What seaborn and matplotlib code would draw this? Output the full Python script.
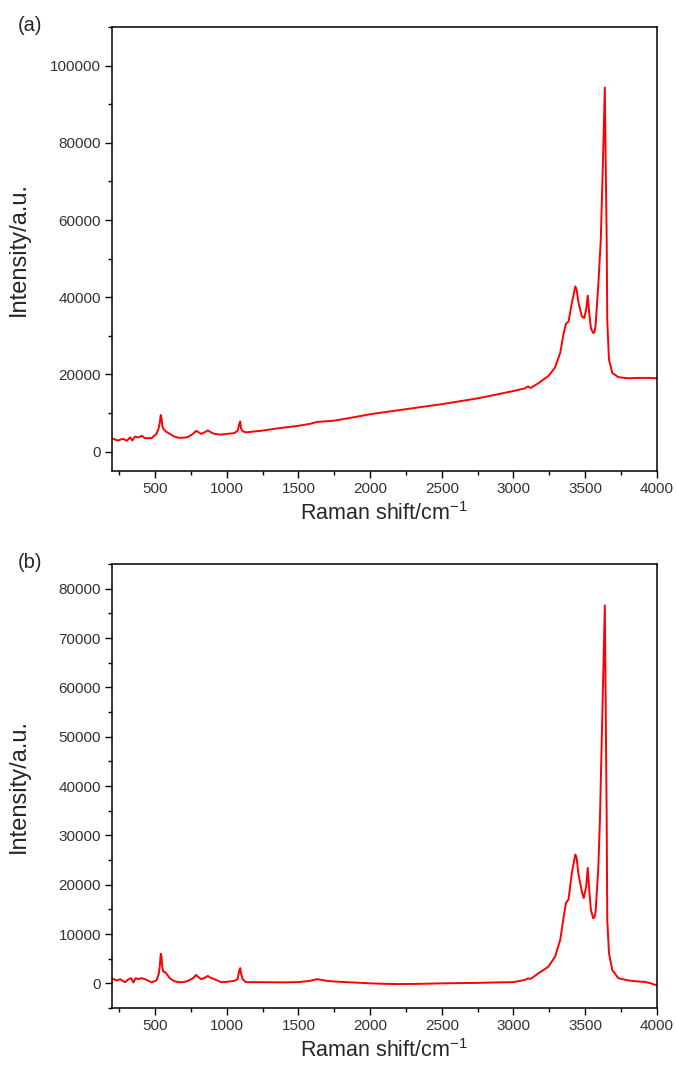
import matplotlib
matplotlib.use("Agg")
import matplotlib.pyplot as plt
from matplotlib.ticker import MultipleLocator
import pandas as pd
import seaborn as sns

# Raman spectrum (a)
shift_a = [200, 211, 230, 245, 265, 280, 303, 326, 342, 360, 384, 407, 430, 476,
           510, 525, 533, 540, 545, 551, 557, 573, 603, 630, 661, 700, 730, 765,
           787, 805, 822, 845, 868, 890, 914, 961, 1000, 1053, 1076, 1086, 1094,
           1100, 1111, 1134, 1238, 1350, 1500, 1580, 1630, 1745, 1900, 2000, 2250,
           2500, 2750, 3000, 3080, 3100, 3120, 3177, 3220, 3244, 3290, 3326, 3350,
           3366, 3384, 3407, 3431, 3440, 3454, 3477, 3493, 3507, 3518, 3528, 3540,
           3556, 3565, 3572, 3591, 3609, 3623, 3637, 3642, 3650, 3654, 3666, 3689,
           3731, 3800, 3869, 3950, 4000]
intensity_a = [3400, 3300, 3000, 2900, 3200, 3300, 2800, 3700, 2900, 3900, 3700, 4100,
               3500, 3500, 4600, 6000, 7500, 9500, 8800, 6600, 6000, 5300, 4600, 4000,
               3600, 3600, 3800, 4600, 5400, 5000, 4600, 5000, 5500, 5000, 4600, 4400,
               4600, 4800, 5400, 7000, 7800, 6000, 5300, 5000, 5400, 6000, 6700, 7200,
               7700, 8000, 9000, 9700, 11000, 12300, 13800, 15700, 16400, 16900, 16500,
               17800, 19000, 19600, 21800, 25600, 30700, 33100, 33700, 38500, 42800,
               42000, 38500, 35000, 34600, 36800, 40400, 35900, 32000, 30700, 31000,
               32500, 42800, 55000, 74000, 94300, 78000, 55000, 34000, 23800, 20400,
               19300, 19000, 19100, 19100, 19000]

# Raman spectrum (b)
shift_b = [200, 211, 235, 257, 275, 291, 316, 333, 349, 365, 384, 402, 430, 476,
           510, 525, 533, 540, 545, 551, 557, 573, 603, 630, 661, 700, 730, 765,
           787, 805, 822, 845, 868, 890, 914, 961, 1000, 1053, 1076, 1086, 1094,
           1100, 1111, 1134, 1238, 1400, 1500, 1580, 1630, 1700, 1750, 1900, 2000,
           2100, 2200, 2350, 2500, 2750, 2900, 3000, 3080, 3100, 3120, 3177, 3220,
           3244, 3290, 3326, 3350, 3366, 3384, 3407, 3431, 3440, 3454, 3477, 3490,
           3507, 3518, 3528, 3540, 3556, 3565, 3572, 3591, 3603, 3620, 3637, 3642,
           3650, 3654, 3666, 3689, 3731, 3800, 3869, 3915, 3960, 3985, 4000]
intensity_b = [900, 850, 570, 850, 500, 240, 850, 1050, 170, 1050, 850, 1050, 850, 200,
               600, 1800, 3400, 6000, 5500, 3200, 2400, 2200, 1050, 500, 240, 250, 500,
               1050, 1700, 1200, 850, 1100, 1500, 1100, 850, 240, 300, 500, 850, 2400,
               3100, 2000, 850, 240, 240, 200, 250, 500, 850, 500, 370, 150, 0, -100,
               -150, -100, 0, 100, 200, 250, 700, 1000, 900, 2100, 2900, 3400, 5400,
               8800, 13500, 16300, 17000, 22400, 26100, 25500, 22000, 18600, 17300,
               19600, 23400, 19000, 14900, 13200, 13400, 14300, 23000, 33200, 55000,
               76600, 60000, 33200, 12900, 6100, 2700, 1050, 600, 370, 300, 0, -300,
               -300]

panel_labels = ["(a)", "(b)"]
y_limits = [(-5000, 110000), (-5000, 85000)]
y_major = [20000, 10000]

sns.set_style("ticks")
plt.rcParams["font.family"] = ["Liberation Sans", "DejaVu Sans"]
plt.rcParams["mathtext.default"] = "regular"

fig = plt.figure(figsize=(6.76, 10.66), dpi=100)
axes = [fig.add_axes([0.1657, 0.5582, 0.806, 0.4165]),
        fig.add_axes([0.1657, 0.0544, 0.806, 0.4165])]

spectra = [pd.DataFrame({"shift": shift_a, "intensity": intensity_a}),
           pd.DataFrame({"shift": shift_b, "intensity": intensity_b})]

for ax, df, ylim, ymaj, lab, ypos in zip(axes, spectra, y_limits, y_major,
                                         panel_labels, [0.9765, 0.4719]):
    sns.lineplot(data=df, x="shift", y="intensity", ax=ax, color="#ff0000",
                 linewidth=1.4, sort=False, estimator=None)
    ax.set_xlim(200, 4000)
    ax.set_ylim(*ylim)
    ax.xaxis.set_major_locator(MultipleLocator(500))
    ax.xaxis.set_minor_locator(MultipleLocator(250))
    ax.yaxis.set_major_locator(MultipleLocator(ymaj))
    ax.yaxis.set_minor_locator(MultipleLocator(ymaj / 2))
    ax.tick_params(which="both", direction="out", top=False, right=False,
                   width=1.0, color="black", labelsize=11, labelcolor="#333333")
    ax.tick_params(which="major", length=5, pad=3)
    ax.tick_params(which="minor", length=3)
    for side in ax.spines.values():
        side.set_visible(True)
        side.set_linewidth(1.1)
        side.set_color("black")
    ax.set_xlabel("Raman shift/cm$^{-1}$", fontsize=15.5, labelpad=4)
    ax.set_ylabel("Intensity/a.u.", fontsize=17)
    ax.yaxis.set_label_coords(-0.15, 0.5)
    fig.text(0.045, ypos, lab, fontsize=14.5, ha="center", va="center")

fig.savefig("out.png", dpi=100)
